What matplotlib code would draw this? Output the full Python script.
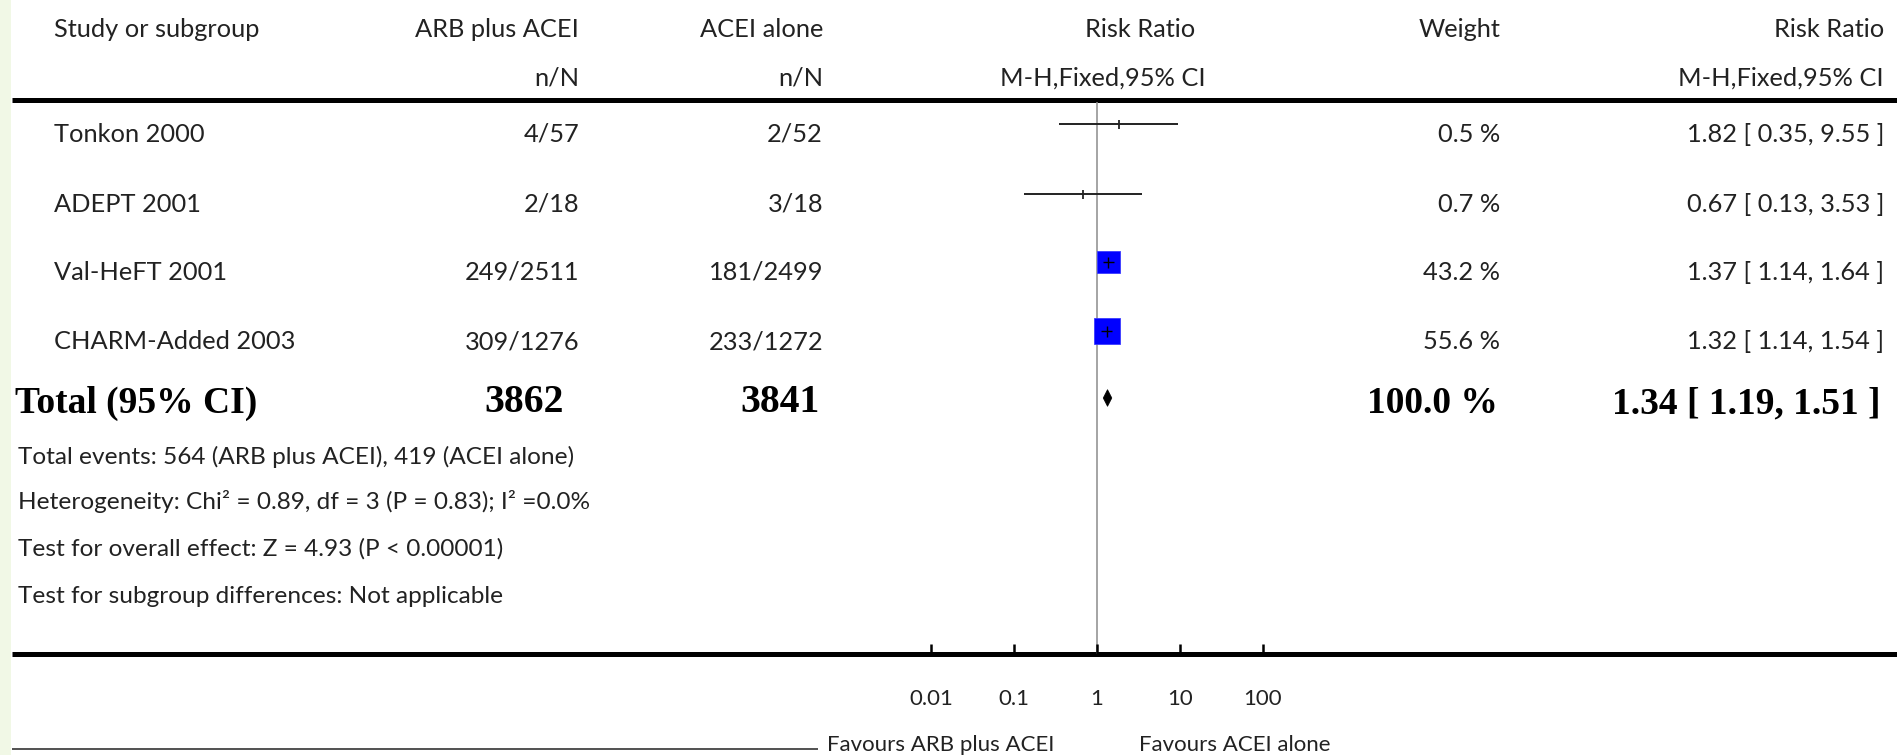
import matplotlib

matplotlib.use('Agg')
import matplotlib.pyplot as plt
from matplotlib.patches import Rectangle, Polygon

# study data
studies = ['Tonkon 2000', 'ADEPT 2001', 'Val-HeFT 2001', 'CHARM-Added 2003']
arb_nN = ['4/57', '2/18', '249/2511', '309/1276']
acei_nN = ['2/52', '3/18', '181/2499', '233/1272']
rr = [1.82, 0.67, 1.37, 1.32]
ci_lo = [0.35, 0.13, 1.14, 1.14]
ci_hi = [9.55, 3.53, 1.64, 1.54]
weights = [0.5, 0.7, 43.2, 55.6]

# pooled result
total_arb = 3862
total_acei = 3841
total_rr, total_lo, total_hi = 1.34, 1.19, 1.51
total_weight = 100.0

footer = ['Total events: 564 (ARB plus ACEI), 419 (ACEI alone)',
          'Heterogeneity: Chi\u00b2 = 0.89, df = 3 (P = 0.83); I\u00b2 =0.0%',
          'Test for overall effect: Z = 4.93 (P < 0.00001)',
          'Test for subgroup differences: Not applicable']

ticks = [0.01, 0.1, 1, 10, 100]
tick_labels = ['0.01', '0.1', '1', '10', '100']

# layout in pixels
W, H = 1897, 755
ONE_X = 1097.0
DECADE = 82.8
row_y = [124, 194, 262, 331]
total_y = 398
SANS = 'Lato'
SERIF = 'Liberation Serif'
TXT = '#222222'
FS = 18.3
FS_FOOT = 17.6
FS_B = 27

fig = plt.figure(figsize=(W / 100, H / 100), dpi=100)
ax = fig.add_axes([0, 0, 1, 1])
ax.set_xlim(0, W)
ax.set_ylim(H, 0)
ax.axis('off')

# slide background strip on the left
ax.add_patch(Rectangle((0, 0), 11, H, color='#f1f8e6', lw=0))

# horizontal rules
ax.plot([12, W], [99.5, 99.5], color='black', lw=3.6, solid_capstyle='butt')
ax.plot([12, W], [654, 654], color='black', lw=3.6, solid_capstyle='butt')
ax.plot([12, 818], [749, 749], color='#222222', lw=1.1, solid_capstyle='butt')


def t(x, y, s, ha='left', bold=False, size=None):
    if bold:
        ax.text(x, y, s, ha=ha, va='baseline', fontsize=size or FS_B,
                family=SERIF, weight='bold', color='black')
    else:
        ax.text(x, y, s, ha=ha, va='baseline', fontsize=size or FS,
                family=SANS, color=TXT)


# header
t(54, 37, 'Study or subgroup')
t(579, 37, 'ARB plus ACEI', ha='right')
t(823, 37, 'ACEI alone', ha='right')
t(1140, 37, 'Risk Ratio', ha='center')
t(1500, 37, 'Weight', ha='right')
t(1884, 37, 'Risk Ratio', ha='right')
t(579, 86, 'n/N', ha='right')
t(823, 86, 'n/N', ha='right')
t(1103, 86, 'M-H,Fixed,95% CI', ha='center')
t(1884, 86, 'M-H,Fixed,95% CI', ha='right')

# study rows
for i, name in enumerate(studies):
    yb = row_y[i] + 18
    t(54, yb, name)
    t(579, yb, arb_nN[i], ha='right')
    t(823, yb, acei_nN[i], ha='right')
    t(1500, yb, '%.1f %%' % weights[i], ha='right')
    t(1884, yb, '%.2f [ %.2f, %.2f ]' % (rr[i], ci_lo[i], ci_hi[i]), ha='right')

# total row
t(15, 413, 'Total (95% CI)', bold=True)
t(564, 412, str(total_arb), ha='right', bold=True, size=28.5)
t(820, 412, str(total_acei), ha='right', bold=True, size=28.5)
t(1498, 413, '%.1f %%' % total_weight, ha='right', bold=True)
t(1881, 413, '%.2f [ %.2f, %.2f ]' % (total_rr, total_lo, total_hi), ha='right', bold=True)

for i, line in enumerate(footer):
    t(18, [464, 509, 556, 603][i], line, size=FS_FOOT)

t(1054, 751, 'Favours ARB plus ACEI', ha='right', size=16)
t(1139, 751, 'Favours ACEI alone', size=16)

# forest plot axes, log scale, y in figure pixels
x0 = ONE_X - 3 * DECADE
fa = fig.add_axes([x0 / W, 1 - 654 / H, 6 * DECADE / W, (654 - 102) / H])
fa.set_xscale('log')
fa.set_xlim(1e-3, 1e3)
fa.set_ylim(654, 102)
fa.patch.set_visible(False)
for sp in fa.spines.values():
    sp.set_visible(False)
fa.set_yticks([])
fa.set_xticks(ticks)
fa.set_xticklabels(tick_labels, fontsize=16, family=SANS, color=TXT)
fa.minorticks_off()
fa.tick_params(axis='x', direction='in', length=7.5, width=1.8, pad=25, color='black')

fa.axvline(1, color='#8c8c8c', lw=1.1, zorder=1)


def px(v, d):
    # shift a value on the log axis by d pixels
    return v * 10 ** (d / DECADE)


max_side = 25.6
for i in range(len(studies)):
    y = row_y[i]
    fa.hlines(y, ci_lo[i], ci_hi[i], color='#222222', lw=1.4, zorder=2)
    side = max_side * (weights[i] / max(weights)) ** 0.5
    if side > 4:
        lo = px(rr[i], -side / 2)
        hi = px(rr[i], side / 2)
        fa.add_patch(Rectangle((lo, y - side / 2), hi - lo, side, facecolor='#0000ff',
                               edgecolor='#3a3aff', lw=0.6, zorder=3))
        fa.hlines(y, px(rr[i], -5.5), px(rr[i], 5.5), color='black', lw=1.0, zorder=4)
        fa.vlines(rr[i], y - 5.5, y + 5.5, color='black', lw=1.0, zorder=4)
    else:
        fa.vlines(rr[i], y - 4.5, y + 4.5, color='#222222', lw=1.3, zorder=4)

dh = 16.7
fa.add_patch(Polygon([(total_lo, total_y), (total_rr, total_y - dh / 2),
                      (total_hi, total_y), (total_rr, total_y + dh / 2)],
                     closed=True, facecolor='black', edgecolor='black', lw=0.5, zorder=4))

plt.savefig('out.png', dpi=100, facecolor='w')
